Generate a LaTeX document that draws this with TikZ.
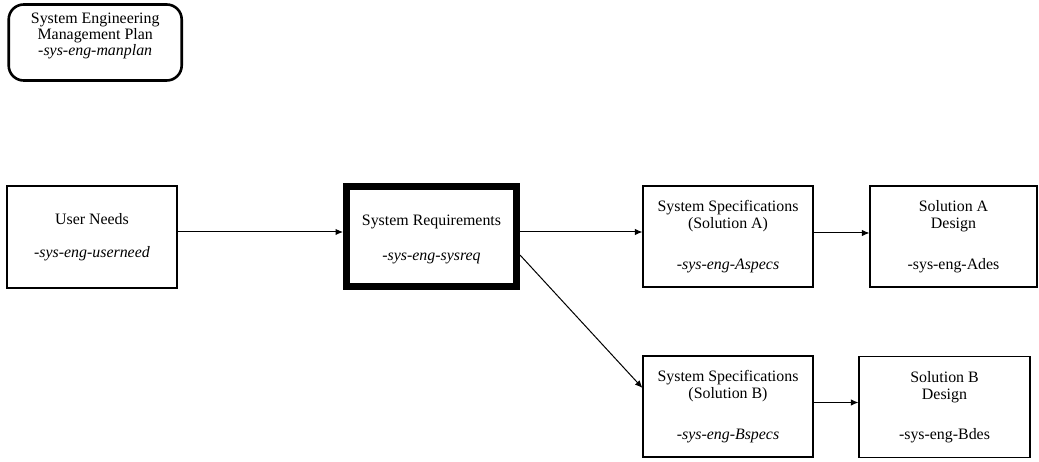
\documentclass[tikz,border=0pt]{standalone}
\usepackage{fontspec}
\setmainfont{Liberation Serif}
\usetikzlibrary{arrows.meta}
\newcommand\dfont{\fontsize{15.9}{17}\selectfont}
\newcommand\mpfont{\fontsize{15.9}{16}\selectfont}
\tikzset{
  box/.style={draw, line width=1.1pt, inner sep=0pt, align=center, font=\dfont,
    minimum width=170pt, minimum height=101pt},
  thickbox/.style={box, line width=7pt, minimum height=100pt},
  rbox/.style={draw, line width=2.6pt, rounded corners=15pt, inner sep=0pt,
    align=center, font=\mpfont, minimum width=173pt, minimum height=76pt},
  arr/.style={-{Latex[length=7.5pt,width=6.5pt]}, line width=1pt}
}
\begin{document}
\begin{tikzpicture}[x=1pt,y=-1pt]
\useasboundingbox (0,0) rectangle (1039,462);
\node[rbox] (mp) at (95.2,42.5) {System Engineering\\Management Plan\\\textit{-sys-eng-manplan}\rule[-17pt]{0pt}{17pt}};
\node[box, minimum height=102pt] (un) at (92,237) {User Needs\\[16.5pt]\textit{-sys-eng-userneed}};
\node[thickbox] (sr) at (431.5,236.5) {\rule{0pt}{17pt}System Requirements\\[17.8pt]\textit{-sys-eng-sysreq}};
\node[box] (sa) at (728,236.5) {System Specifications\\(Solution A)\\[23.5pt]\textit{-sys-eng-Aspecs}};
\node[box, minimum width=167pt] (da) at (953.5,236.5) {Solution A\\Design\\[23.5pt]-sys-eng-Ades};
\node[box] (sb) at (728,406.5) {System Specifications\\(Solution B)\\[23.5pt]\textit{-sys-eng-Bspecs}};
\node[box, minimum width=171pt] (db) at (944.5,407) {Solution B\\Design\\[23.5pt]-sys-eng-Bdes};
\draw[arr] ([yshift=5pt]un.east) -- ([yshift=4.5pt]sr.west);
\draw[arr] ([yshift=4.5pt]sr.east) -- ([yshift=4.5pt]sa.west);
\draw[arr] ([yshift=3.5pt]sa.east) -- ([yshift=3.5pt]da.west);
\draw[arr] ([yshift=-18.5pt]sr.east) -- ([yshift=18.5pt]sb.west);
\draw[arr] ([yshift=4pt]sb.east) -- ([yshift=4.5pt]db.west);
\end{tikzpicture}
\end{document}
